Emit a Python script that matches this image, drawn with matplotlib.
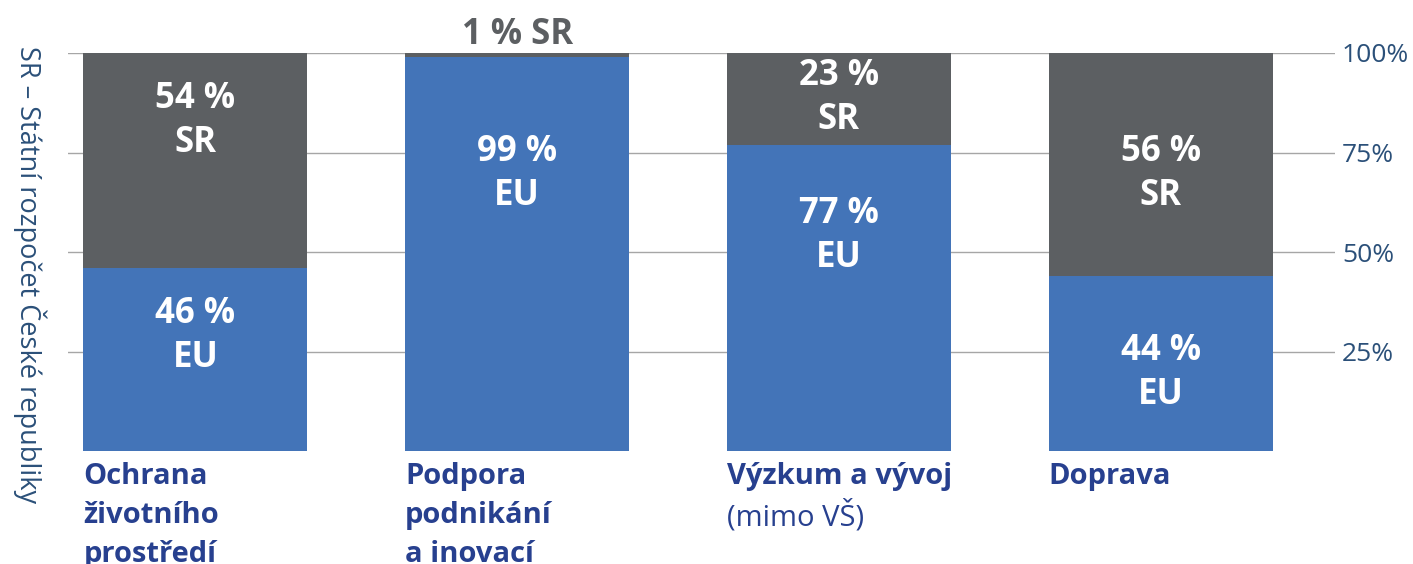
import numpy as np
import matplotlib.pyplot as plt

# data
categories = ["Ochrana\nživotního\nprostředí", "Podpora\npodnikání\na inovací", "Výzkum a vývoj", "Doprava"]
eu_share = [46, 99, 77, 44]
sr_share = [54, 1, 23, 56]
yticks = [25, 50, 75, 100]

# label heights (layout, in %)
eu_label_y = [29, 69.5, 54, 19.5]
sr_label_y = [83, 104.5, 88.7, 69.5]

blue = "#4374b8"
grey = "#5c5f62"
navy = "#27408f"
tick_col = "#2b5079"

plt.rcParams['font.family'] = ['Open Sans', 'DejaVu Sans']

fig = plt.figure(figsize=(14.13, 5.64), dpi=100)
ax = fig.add_axes([68/1413, 113/564, (1335-68)/1413, 398/564])

x = np.arange(len(categories))
w = 0.696
ax.bar(x, eu_share, width=w, color=blue, zorder=2)
ax.bar(x, sr_share, width=w, bottom=eu_share, color=grey, zorder=2)

ax.set_xlim(-0.396, 3.542)
ax.set_ylim(0, 100)
ax.set_yticks(yticks)
ax.set_yticklabels([f"{t}%" for t in yticks], fontsize=19, color=tick_col)
ax.yaxis.tick_right()
ax.tick_params(axis='y', length=0, pad=5)
ax.set_xticks([])
ax.grid(axis='y', color='#a6a6a6', lw=1, zorder=0)
for s in ax.spines.values():
    s.set_visible(False)

# value labels
for i in x:
    ax.text(i, eu_label_y[i], f"{eu_share[i]} %\nEU", ha='center', va='center', color='white',
            fontsize=25, fontweight='bold', linespacing=1.3)
    if sr_share[i] > 5:
        ax.text(i, sr_label_y[i], f"{sr_share[i]} %\nSR", ha='center', va='center', color='white',
                fontsize=25, fontweight='bold', linespacing=1.3)
    else:
        ax.text(i, sr_label_y[i], f"{sr_share[i]} % SR", ha='center', va='center', color=grey,
                fontsize=25, fontweight='bold', clip_on=False)

# category labels
for i in x:
    ax.text(i - w/2, -2.8, categories[i], ha='left', va='top', color=navy,
            fontsize=21, fontweight='bold', linespacing=1.44, clip_on=False)
ax.text(2 - w/2, -12.4, "(mimo VŠ)", ha='left', va='top', color=navy,
        fontsize=21, clip_on=False)

fig.text(30/1413, (564-275)/564, "SR – Státní rozpočet České republiky", rotation=270,
         ha='center', va='center', fontsize=19.5, color=tick_col)

fig.savefig("out.png", dpi=100)
